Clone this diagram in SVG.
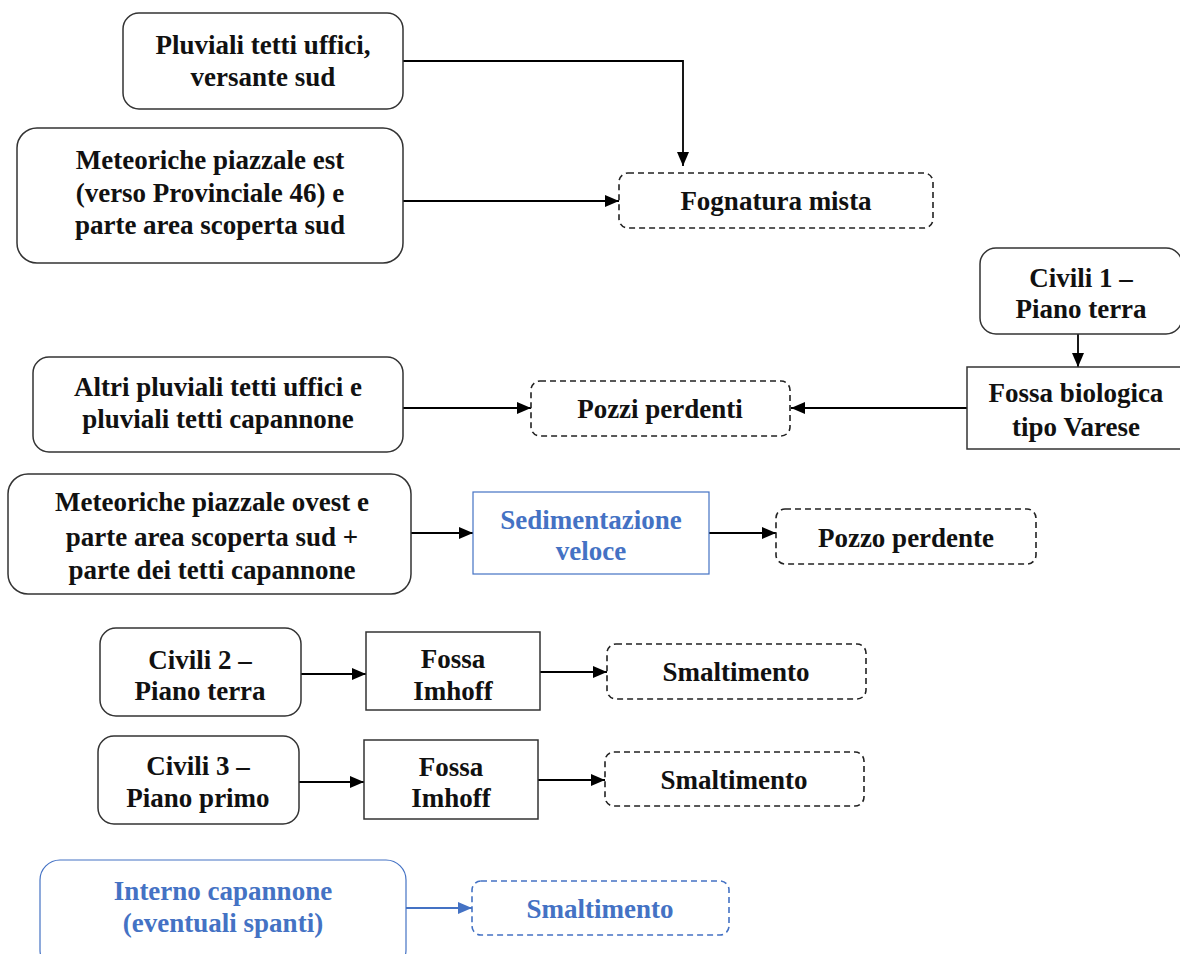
<svg xmlns="http://www.w3.org/2000/svg" width="1180" height="954" viewBox="0 0 1180 954">
<defs>
<marker id="ah" viewBox="0 0 14 12" refX="14" refY="6" markerWidth="14" markerHeight="12" markerUnits="userSpaceOnUse" orient="auto">
<path d="M0,0 L14,6 L0,12 Z" fill="#000"/>
</marker>
<marker id="ahb" viewBox="0 0 14 12" refX="14" refY="6" markerWidth="14" markerHeight="12" markerUnits="userSpaceOnUse" orient="auto">
<path d="M0,0 L14,6 L0,12 Z" fill="#4472C4"/>
</marker>
</defs>
<style>
text{font-family:"Liberation Serif","Times New Roman",serif;font-weight:bold;font-size:27px;fill:#111;text-anchor:middle}
text.blue{fill:#4472C4}
.box{fill:#fff;stroke:#333;stroke-width:1.5}
.dash{fill:#fff;stroke:#222;stroke-width:1.6;stroke-dasharray:6,4}
.bbox{fill:#fff;stroke:#4472C4;stroke-width:1.2}
.bdash{fill:#fff;stroke:#4472C4;stroke-width:1.6;stroke-dasharray:6,4}
.c{fill:none;stroke:#000;stroke-width:1.8;marker-end:url(#ah)}
.cb{fill:none;stroke:#4472C4;stroke-width:1.8;marker-end:url(#ahb)}
</style>
<rect width="1180" height="954" fill="#fff"/>

<g id="connectors">
<path class="c" d="M403,61 H683 V166"/>
<path class="c" d="M403,201 H619"/>
<path class="c" d="M1078,334 V367"/>
<path class="c" d="M403,408 H531"/>
<path class="c" d="M967,408 H791"/>
<path class="c" d="M411,533 H473"/>
<path class="c" d="M709,533 H776"/>
<path class="c" d="M301,674 H366"/>
<path class="c" d="M540,672 H607"/>
<path class="c" d="M299,782 H364"/>
<path class="c" d="M538,780 H605"/>
<path class="cb" d="M406,908 H472"/>
</g>

<g id="n-pluviali-sud">
<rect class="box" x="123" y="13" width="280" height="96" rx="16"/>
<text x="263" y="54">Pluviali tetti uffici,</text>
<text x="263" y="86">versante sud</text>
</g>

<g id="n-meteoriche-est">
<rect class="box" x="17" y="128" width="386" height="135" rx="20"/>
<text x="210" y="169">Meteoriche piazzale est</text>
<text x="210" y="202">(verso Provinciale 46) e</text>
<text x="210" y="234">parte area scoperta sud</text>
</g>

<g id="n-fognatura">
<rect class="dash" x="619" y="173" width="314" height="55" rx="9"/>
<text x="776" y="210">Fognatura mista</text>
</g>

<g id="n-civili1">
<rect class="box" x="980" y="248" width="202" height="86" rx="16"/>
<text x="1081" y="287">Civili 1 –</text>
<text x="1081" y="318">Piano terra</text>
</g>

<g id="n-fossa-varese">
<rect class="box" x="967" y="367" width="215" height="82"/>
<text x="1076" y="402">Fossa biologica</text>
<text x="1076" y="436">tipo Varese</text>
</g>

<g id="n-altri-pluviali">
<rect class="box" x="33" y="357" width="370" height="95" rx="16"/>
<text x="218" y="396">Altri pluviali tetti uffici e</text>
<text x="218" y="428">pluviali tetti capannone</text>
</g>

<g id="n-pozzi-perdenti">
<rect class="dash" x="531" y="381" width="259" height="55" rx="9"/>
<text x="660" y="418">Pozzi perdenti</text>
</g>

<g id="n-meteoriche-ovest">
<rect class="box" x="8" y="474" width="403" height="120" rx="20"/>
<text x="212" y="511">Meteoriche piazzale ovest e</text>
<text x="212" y="546">parte area scoperta sud +</text>
<text x="212" y="579">parte dei tetti capannone</text>
</g>

<g id="n-sedimentazione">
<rect class="bbox" x="473" y="492" width="236" height="82"/>
<text class="blue" x="591" y="529">Sedimentazione</text>
<text class="blue" x="591" y="560">veloce</text>
</g>

<g id="n-pozzo-perdente">
<rect class="dash" x="776" y="509" width="260" height="55" rx="9"/>
<text x="906" y="547">Pozzo perdente</text>
</g>

<g id="n-civili2">
<rect class="box" x="100" y="628" width="201" height="88" rx="16"/>
<text x="200" y="669">Civili 2 –</text>
<text x="200" y="700">Piano terra</text>
</g>

<g id="n-imhoff1">
<rect class="box" x="366" y="632" width="174" height="78"/>
<text x="453" y="668">Fossa</text>
<text x="453" y="700">Imhoff</text>
</g>

<g id="n-smaltimento1">
<rect class="dash" x="607" y="644" width="259" height="55" rx="9"/>
<text x="736" y="681">Smaltimento</text>
</g>

<g id="n-civili3">
<rect class="box" x="98" y="736" width="201" height="88" rx="16"/>
<text x="198" y="775">Civili 3 –</text>
<text x="198" y="807">Piano primo</text>
</g>

<g id="n-imhoff2">
<rect class="box" x="364" y="740" width="174" height="79"/>
<text x="451" y="776">Fossa</text>
<text x="451" y="807">Imhoff</text>
</g>

<g id="n-smaltimento2">
<rect class="dash" x="605" y="752" width="259" height="54" rx="9"/>
<text x="734" y="789">Smaltimento</text>
</g>

<g id="n-interno">
<rect class="bbox" x="40" y="860" width="366" height="110" rx="20"/>
<text class="blue" x="223" y="900">Interno capannone</text>
<text class="blue" x="223" y="932">(eventuali spanti)</text>
</g>

<g id="n-smaltimento3">
<rect class="bdash" x="472" y="881" width="257" height="54" rx="9"/>
<text class="blue" x="600" y="918">Smaltimento</text>
</g>
</svg>
